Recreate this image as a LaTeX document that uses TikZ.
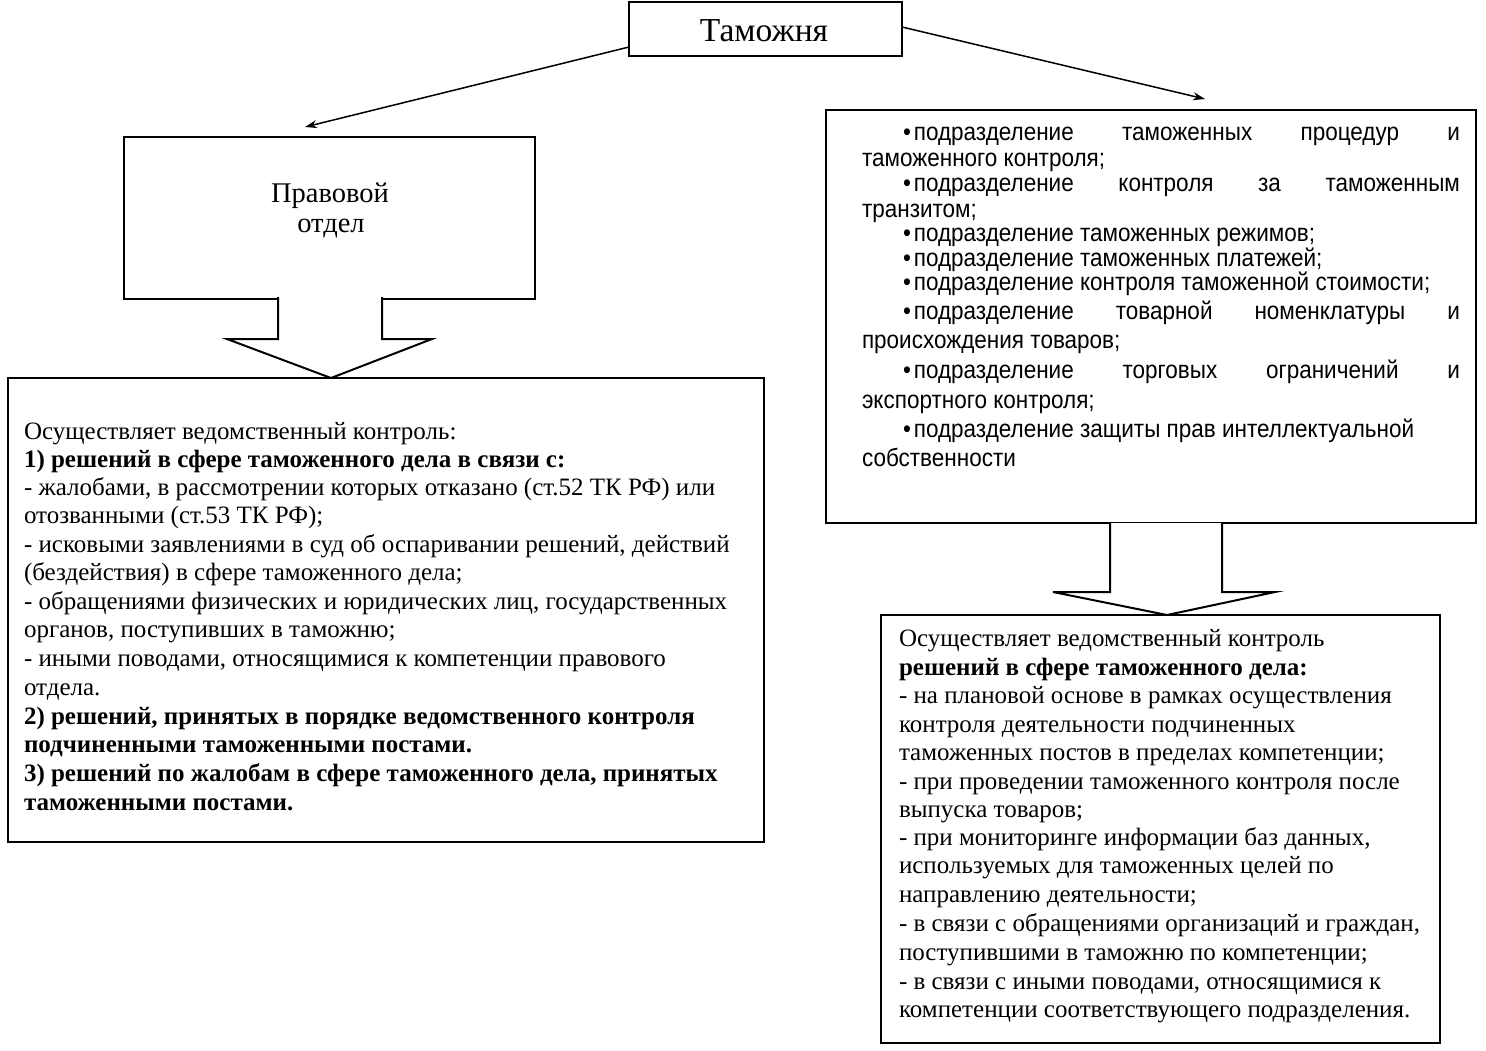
\documentclass[tikz,border=0pt]{standalone}
\usepackage{fontspec}
\setmainfont{Liberation Serif}
\newfontfamily\rfont{Liberation Sans}[FakeStretch=0.9]
\usetikzlibrary{arrows.meta}
\tikzset{
  box/.style={draw, line width=2pt, inner sep=0pt, outer sep=0pt, anchor=north west},
  txt/.style={anchor=base west, inner sep=0pt, outer sep=0pt},
  thinarr/.style={line width=1.5pt, -{Stealth[length=12pt,width=8pt]}},
  blockarr/.style={draw, line width=2pt, fill=white, line join=miter},
}
\newcommand{\tline}[4]{\node[txt] (#1) at (#2,#3) {#4};}
\newcommand{\rb}{\textbullet\hspace{3pt}}
\begin{document}
\begin{tikzpicture}[x=1pt,y=-1pt]
\useasboundingbox (0,0) rectangle (1486,1050);
% boxes
\node[box, minimum width=273pt, minimum height=54pt] (tam) at (629,2) {};
\node[font=\fontsize{33.5}{36}\selectfont] (tamt) at (764,31) {Таможня};
\node[box, minimum width=411pt, minimum height=162pt] (pravo) at (124,137) {};
\node[box, minimum width=756pt, minimum height=464pt] (lbox) at (8,378) {};
\node[box, minimum width=650pt, minimum height=413pt] (rtop) at (826,110) {};
\node[box, minimum width=559pt, minimum height=428pt] (rbot) at (881,615) {};
% block arrows
\path[blockarr] (278,297) -- (278,339) -- (227,339) -- (331,378) -- (432,339) -- (382,339) -- (382,297);
\path[blockarr] (1110,523) -- (1110,592) -- (1053,592) -- (1167,615) -- (1275,592) -- (1222,592) -- (1222,523);
% thin arrows
\draw[thinarr] ([yshift=-18pt]tam.west) -- ([xshift=-24.5pt,yshift=10pt]pravo.north);
\draw[thinarr] ([yshift=2pt]tam.east) -- ([xshift=54pt,yshift=11pt]rtop.north);
% pravovoi
\node[font=\fontsize{28.5}{30}\selectfont] (p1) at (330,196) {Правовой};
\node[font=\fontsize{28.5}{30}\selectfont] (p2) at (331,229) {отдел};
% left box text
\begin{scope}[every node/.append style={font=\fontsize{25}{28}\selectfont}]
\tline{l1}{24}{439}{Осуществляет ведомственный контроль:}
\tline{l2}{24}{467}{\textbf{1) решений в сфере таможенного дела в связи с:}}
\tline{l3}{24}{495}{- жалобами, в рассмотрении которых отказано (ст.52 ТК РФ) или}
\tline{l4}{24}{523}{отозванными (ст.53 ТК РФ);}
\tline{l5}{24}{552}{- исковыми заявлениями в суд об оспаривании решений, действий}
\tline{l6}{24}{580}{(бездействия) в сфере таможенного дела;}
\tline{l7}{24}{609}{- обращениями физических и юридических лиц, государственных}
\tline{l8}{24}{637}{органов, поступивших в таможню;}
\tline{l9}{24}{666}{- иными поводами, относящимися к компетенции правового}
\tline{l10}{24}{695}{отдела.}
\tline{l11}{24}{724}{\textbf{2) решений, принятых в порядке ведомственного контроля}}
\tline{l12}{24}{752}{\textbf{подчиненными таможенными постами.}}
\tline{l13}{24}{781}{\textbf{3) решений по жалобам в сфере таможенного дела, принятых}}
\tline{l14}{24}{810}{\textbf{таможенными постами.}}
\end{scope}
% right top text
\begin{scope}[every node/.append style={font=\rfont\fontsize{25}{28}\selectfont}]
\tline{r1}{903}{140}{\makebox[557pt][s]{\rb подразделение таможенных процедур и}}
\tline{r2}{862}{166}{таможенного контроля;}
\tline{r3}{903}{191}{\makebox[557pt][s]{\rb подразделение контроля за таможенным}}
\tline{r4}{862}{217}{транзитом;}
\tline{r5}{903}{241}{\rb подразделение таможенных режимов;}
\tline{r6}{903}{266}{\rb подразделение таможенных платежей;}
\tline{r7}{903}{290}{\rb подразделение контроля таможенной стоимости;}
\tline{r8}{903}{319}{\makebox[557pt][s]{\rb подразделение товарной номенклатуры и}}
\tline{r9}{862}{348}{происхождения товаров;}
\tline{r10}{903}{378}{\makebox[557pt][s]{\rb подразделение торговых ограничений и}}
\tline{r11}{862}{408}{экспортного контроля;}
\tline{r12}{903}{437}{\rb подразделение защиты прав интеллектуальной}
\tline{r13}{862}{466}{собственности}
\end{scope}
% right bottom text
\begin{scope}[every node/.append style={font=\fontsize{25}{28}\selectfont}]
\tline{b1}{899}{646}{Осуществляет ведомственный контроль}
\tline{b2}{899}{675}{\textbf{решений в сфере таможенного дела:}}
\tline{b3}{899}{703}{- на плановой основе в рамках осуществления}
\tline{b4}{899}{732}{контроля деятельности подчиненных}
\tline{b5}{899}{760}{таможенных постов в пределах компетенции;}
\tline{b6}{899}{789}{- при проведении таможенного контроля после}
\tline{b7}{899}{817}{выпуска товаров;}
\tline{b8}{899}{845}{- при мониторинге информации баз данных,}
\tline{b9}{899}{873}{используемых для таможенных целей по}
\tline{b10}{899}{902}{направлению деятельности;}
\tline{b11}{899}{931}{- в связи с обращениями организаций и граждан,}
\tline{b12}{899}{960}{поступившими в таможню по компетенции;}
\tline{b13}{899}{989}{- в связи с иными поводами, относящимися к}
\tline{b14}{899}{1017}{компетенции соответствующего подразделения.}
\end{scope}
\end{tikzpicture}
\end{document}
